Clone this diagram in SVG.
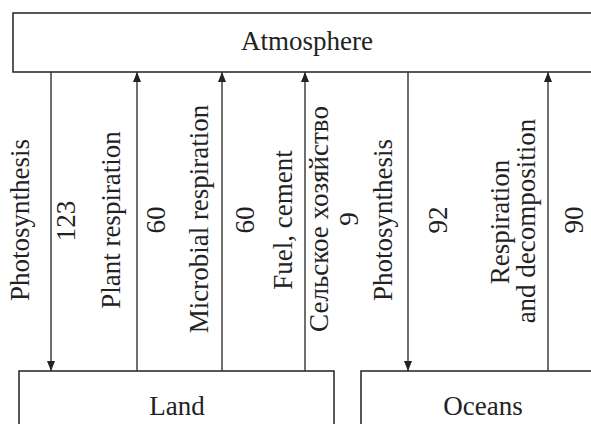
<svg xmlns="http://www.w3.org/2000/svg" width="591" height="424" viewBox="0 0 591 424">
<defs>
<marker id="ah" viewBox="0 0 10 10" refX="10" refY="5" markerWidth="10" markerHeight="10" markerUnits="userSpaceOnUse" orient="auto">
<path d="M0,1 L10,5 L0,9 Z" fill="#222"/>
</marker>
<style>
.box{fill:#fff;stroke:#222;stroke-width:1.5}
.lbl{font-family:"Liberation Serif","Times New Roman",serif;font-size:27px;fill:#222;text-anchor:middle}
.c{stroke:#333;stroke-width:1.4;fill:none;marker-end:url(#ah)}
</style>
</defs>
<rect width="591" height="424" fill="#fff"/>
<g id="atmosphere">
<rect class="box" x="13" y="13" width="600" height="59"/>
<text class="lbl" x="307" y="50">Atmosphere</text>
</g>
<g id="land">
<rect class="box" x="19" y="371" width="315" height="70"/>
<text class="lbl" x="177" y="415">Land</text>
</g>
<g id="oceans">
<rect class="box" x="361" y="371" width="260" height="70"/>
<text class="lbl" x="483" y="415">Oceans</text>
</g>
<g id="connectors">
<line class="c" x1="51" y1="72" x2="51" y2="371"/>
<line class="c" x1="137" y1="371" x2="137" y2="72"/>
<line class="c" x1="222" y1="371" x2="222" y2="72"/>
<line class="c" x1="305" y1="371" x2="305" y2="72"/>
<line class="c" x1="408" y1="72" x2="408" y2="371"/>
<line class="c" x1="548" y1="371" x2="548" y2="72"/>
</g>
<g id="labels">
<text class="lbl" transform="translate(29,220) rotate(-90)">Photosynthesis</text>
<text class="lbl" transform="translate(75,221) rotate(-90)">123</text>
<text class="lbl" transform="translate(120,220) rotate(-90)">Plant respiration</text>
<text class="lbl" transform="translate(165,220) rotate(-90)">60</text>
<text class="lbl" transform="translate(208,219) rotate(-90)">Microbial respiration</text>
<text class="lbl" transform="translate(254,220) rotate(-90)">60</text>
<text class="lbl" transform="translate(292,220) rotate(-90)">Fuel, cement</text>
<text class="lbl" transform="translate(328,219) rotate(-90)">Сельское хозяйство</text>
<text class="lbl" transform="translate(358,219) rotate(-90)">9</text>
<text class="lbl" transform="translate(392,220) rotate(-90)">Photosynthesis</text>
<text class="lbl" transform="translate(447,220) rotate(-90)">92</text>
<text class="lbl" transform="translate(509,222) rotate(-90)">Respiration</text>
<text class="lbl" transform="translate(535,221) rotate(-90)">and decomposition</text>
<text class="lbl" transform="translate(583,220) rotate(-90)">90</text>
</g>
</svg>
